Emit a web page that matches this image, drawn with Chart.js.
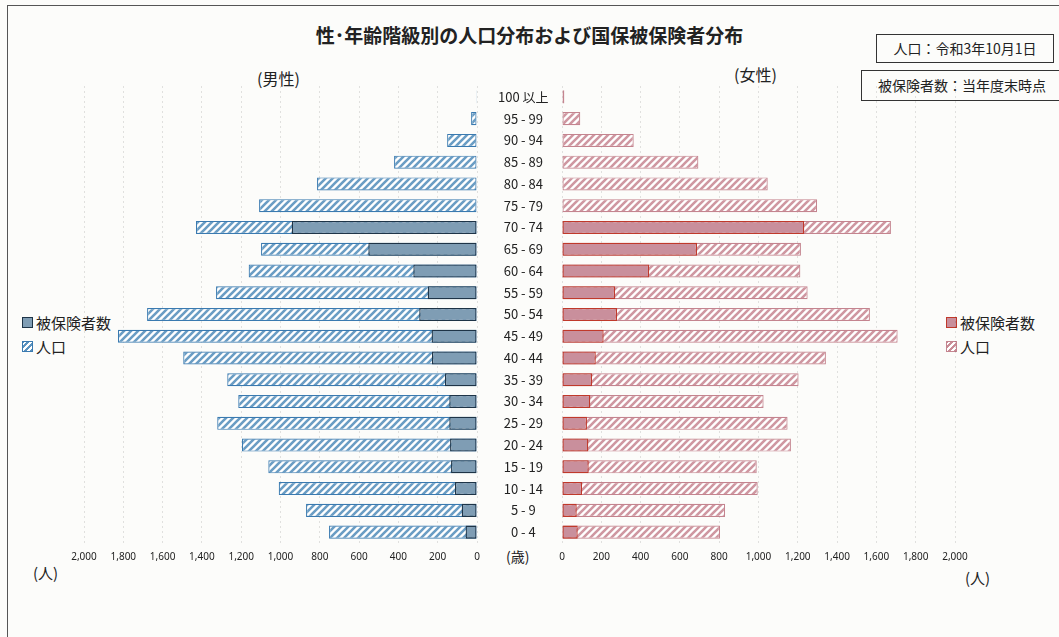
<!DOCTYPE html>
<html lang="ja">
<head>
<meta charset="utf-8">
<title>性・年齢階級別の人口分布および国保被保険者分布</title>
<script src="https://cdn.jsdelivr.net/npm/chart.js@4/dist/chart.umd.min.js"></script>
<style>
  html, body { margin: 0; padding: 0; }
  body {
    width: 1059px; height: 637px; position: relative; overflow: hidden;
    background: #fcfcfa; color: #222;
    font-family: "Noto Sans CJK JP", "Noto Sans", sans-serif;
  }
  .frame { position: absolute; left: 7px; top: 5px; right: -5px; bottom: -5px;
    border-left: 1.5px solid #555; border-top: 1.5px solid #555; }
  .txt { position: absolute; white-space: nowrap; }
  .title { left: 0; width: 1059px; top: 21px; text-align: center; font-size: 19px; font-weight: bold; }
  .box { position: absolute; border: 1.5px solid #333; font-size: 14px; text-align: center; background: #fcfcfa; }
  .legend { position: absolute; font-size: 15px; line-height: 24px; }
  .icon { display: inline-block; width: 9px; height: 9px; margin-right: 3px; vertical-align: 1px; }
  canvas { position: absolute; }
</style>
</head>
<body>
<div class="frame"></div>
<div class="txt title">性･年齢階級別の人口分布および国保被保険者分布</div>
<div class="box" style="left:876px; top:34px; width:176px; height:27px; line-height:27px;">人口：令和3年10月1日</div>
<div class="box" style="left:861px; top:70px; width:200px; height:29px; line-height:29px;">被保険者数：当年度末時点</div>
<div class="txt" style="left:257px; top:66px; font-size:16px;">(男性)</div>
<div class="txt" style="left:734px; top:62px; font-size:16px;">(女性)</div>

<div class="legend" style="left:22px; top:311px;">
  <div><span class="icon" style="background:#7f9db4; border:1px solid #1e3447;"></span>被保険者数</div>
  <div><span class="icon" style="border:1px solid #3a7ab0; background:repeating-linear-gradient(-45deg,#5b93bf 0 2px,#fff 2px 4px);"></span>人口</div>
</div>
<div class="legend" style="left:946px; top:311px;">
  <div><span class="icon" style="background:#c98f9c; border:1px solid #c0392b;"></span>被保険者数</div>
  <div><span class="icon" style="border:1px solid #c4848f; background:repeating-linear-gradient(-45deg,#c98d97 0 2px,#fff 2px 4px);"></span>人口</div>
</div>

<div class="txt" style="left:33px; top:562px; font-size:15px;">(人)</div>
<div class="txt" style="left:506px; top:546px; font-size:14px;">(歳)</div>
<div class="txt" style="left:965px; top:567px; font-size:15px;">(人)</div>

<canvas id="maleChart" width="562" height="600" style="left:0; top:0;"></canvas>
<canvas id="femaleChart" width="460" height="600" style="left:540px; top:0;"></canvas>

<script>
// --- 1. DATA (top row = oldest) ---
const ageLabels = ['100 以上', '95 - 99', '90 - 94', '85 - 89', '80 - 84', '75 - 79', '70 - 74',
  '65 - 69', '60 - 64', '55 - 59', '50 - 54', '45 - 49', '40 - 44', '35 - 39', '30 - 34',
  '25 - 29', '20 - 24', '15 - 19', '10 - 14', '5 - 9', '0 - 4'];

const malePopulation = [4, 30, 152, 422, 814, 1109, 1430, 1099, 1162, 1328, 1679, 1827, 1495,
  1271, 1215, 1322, 1196, 1062, 1009, 870, 753];
const maleInsured = [0, 0, 0, 0, 0, 0, 943, 553, 324, 251, 294, 231, 229,
  163, 141, 141, 137, 132, 112, 78, 58];

const femalePopulation = [12, 93, 365, 694, 1047, 1298, 1674, 1216, 1213, 1250, 1567, 1708, 1343,
  1204, 1026, 1148, 1165, 991, 996, 830, 804];
const femaleInsured = [0, 0, 0, 0, 0, 0, 1233, 687, 444, 270, 280, 212, 172,
  153, 144, 127, 134, 136, 102, 75, 80];

const axisMax = 2000;
const axisStep = 200;

// --- 2. HELPERS ---
function hatch(lineColor) {
  const size = 7;
  const c = document.createElement('canvas');
  c.width = c.height = size;
  const g = c.getContext('2d');
  g.fillStyle = '#ffffff';
  g.fillRect(0, 0, size, size);
  g.strokeStyle = lineColor;
  g.lineWidth = 2.6;
  g.beginPath();
  g.moveTo(-1, 1); g.lineTo(1, -1);
  g.moveTo(-1, size + 1); g.lineTo(size + 1, -1);
  g.moveTo(size - 1, size + 1); g.lineTo(size + 1, size - 1);
  g.stroke();
  return g.createPattern(c, 'repeat');
}

const tickFont = { family: '"Noto Sans", sans-serif', size: 10 };

function xAxis(reverse) {
  return {
    type: 'linear',
    min: 0,
    max: axisMax,
    reverse: reverse,
    afterFit: s => { s.height = 24; },
    ticks: {
      stepSize: axisStep,
      padding: 8,
      color: '#222',
      font: tickFont,
      maxRotation: 0,
      callback: v => v.toLocaleString('en-US')
    },
    grid: { color: 'rgba(0,0,0,0.11)', drawTicks: false, lineWidth: 1 },
    border: { display: false, dash: [2, 3] }
  };
}

function barSet(label, data, fill, border, width) {
  return {
    label: label,
    data: data,
    backgroundColor: fill,
    borderColor: border,
    borderWidth: width,
    borderSkipped: false,
    grouped: false,
    barPercentage: 0.6,
    categoryPercentage: 1
  };
}

const commonOptions = {
  indexAxis: 'y',
  responsive: false,
  animation: false,
  plugins: { legend: { display: false }, tooltip: { enabled: false } }
};

// --- 3. MALE (left side, labels in centre) ---
new Chart(document.getElementById('maleChart').getContext('2d'), {
  type: 'bar',
  data: {
    labels: ageLabels,
    datasets: [
      barSet('被保険者数', maleInsured, '#7f9db4', '#1e3447', 1.3),
      barSet('人口', malePopulation, hatch('#6a9dc4'), '#3a7ab0', 1.2)
    ]
  },
  options: {
    ...commonOptions,
    layout: { padding: { left: 84, right: 0, top: 86, bottom: 33 } },
    scales: {
      x: xAxis(true),
      y: {
        position: 'right',
        afterFit: s => { s.width = 85; },
        grid: { display: false, drawTicks: false },
        border: { display: false },
        ticks: {
          crossAlign: 'center',
          padding: 21,
          color: '#222',
          font: { family: '"Noto Sans CJK JP", sans-serif', size: 13 }
        }
      }
    }
  }
});

// --- 4. FEMALE (right side) ---
new Chart(document.getElementById('femaleChart').getContext('2d'), {
  type: 'bar',
  data: {
    labels: ageLabels,
    datasets: [
      barSet('被保険者数', femaleInsured, '#c98f9c', '#c0392b', 1.3),
      barSet('人口', femalePopulation, hatch('#cf97a1'), '#c4848f', 1.2)
    ]
  },
  options: {
    ...commonOptions,
    layout: { padding: { left: 22, right: 45, top: 86, bottom: 33 } },
    scales: {
      x: xAxis(false),
      y: { display: false }
    }
  }
});
</script>
</body>
</html>
